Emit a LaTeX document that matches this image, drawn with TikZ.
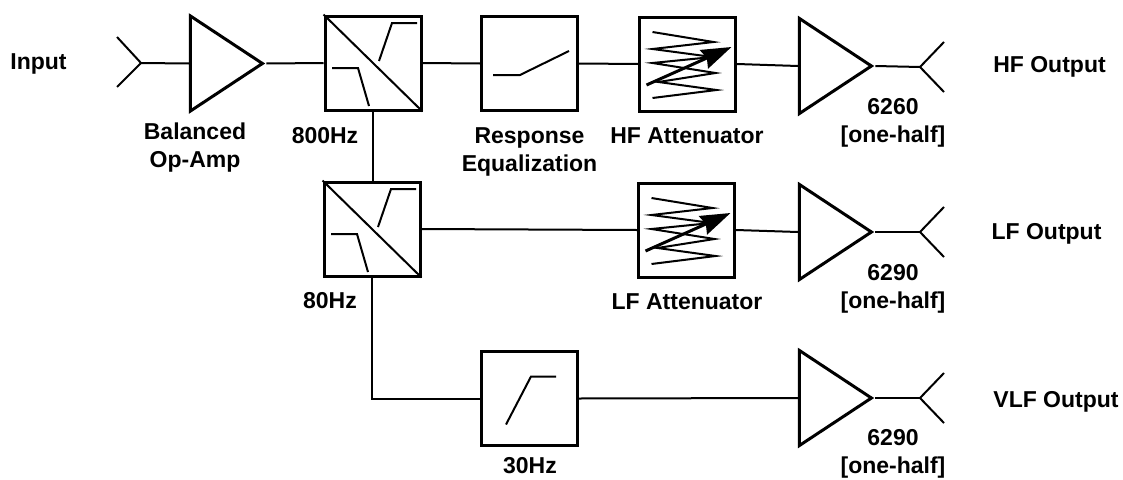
\documentclass[tikz,border=0pt]{standalone}
\usepackage{fontspec}
\setmainfont{Liberation Sans}
\usepackage{tikz}
\usetikzlibrary{positioning, arrows.meta, shapes.geometric}

\begin{document}
\begin{tikzpicture}[
    x=1pt, y=-1pt,
    font=\fontsize{23}{28}\selectfont\bfseries,
    block/.style={rectangle, draw=black, line width=3pt, minimum width=96pt, minimum height=94pt, inner sep=0pt},
    amp/.style={isosceles triangle, isosceles triangle stretches, draw=black, line width=3pt, minimum width=95pt, minimum height=72pt, inner sep=0pt},
    wire/.style={draw=black, line width=2pt},
    curve/.style={draw=black, line width=2pt},
    caption/.style={align=center, inner sep=0pt}
]
\useasboundingbox (0,0) rectangle (1123,479);

% Blocks
\node[amp] (balanced) at (216, 63.5) {};
\node[block] (xoverhi) at (373, 63) {};
\node[block] (equalizer) at (529.5, 63.5) {};
\node[block] (attenhf) at (687.5, 64) {};
\node[amp] (amphf) at (825, 66) {};

\node[block] (xoverlo) at (372, 229) {};
\node[block] (attenlf) at (686.5, 230) {};
\node[amp] (amplf) at (825, 232) {};

\node[block] (highpass) at (529, 398.5) {};
\node[amp] (ampvlf) at (825, 398) {};

% Input and output forks
\coordinate (forkin) at (141, 63);
\coordinate (forkhf) at (920, 67);
\coordinate (forklf) at (920, 232);
\coordinate (forkvlf) at (920, 398);

\draw[wire] (117, 37) -- (forkin) -- (117, 87);
\foreach \fork in {forkhf, forklf, forkvlf} {
    \draw[wire] ([shift={(24,-25)}]\fork) -- (\fork) -- ([shift={(24,25)}]\fork);
}

% Connections
\draw[wire] (forkin) -- (balanced.west);
\draw[wire] (balanced.apex) -- (xoverhi.west);
\draw[wire] (xoverhi.east) -- (equalizer.west);
\draw[wire] (equalizer.east) -- (attenhf.west);
\draw[wire] (attenhf.east) -- (amphf.west);
\draw[wire] (amphf.apex) -- (forkhf);
\draw[wire] (xoverhi.south) -- (xoverhi.south |- xoverlo.north);
\draw[wire] (xoverlo.east) -- (attenlf.west);
\draw[wire] (attenlf.east) -- (amplf.west);
\draw[wire] (amplf.apex) -- (forklf);
\draw[wire] (xoverlo.south) |- (highpass.west);
\draw[wire] (highpass.east) -- (ampvlf.west);
\draw[wire] (ampvlf.apex) -- (forkvlf);

% Crossover symbols
\foreach \xover in {xoverhi, xoverlo} {
    \draw[curve] (\xover.north west) -- (\xover.south east);
    \draw[curve] ([shift={(-41,5)}]\xover.center) -- ++(26,0) -- ++(11,38);
    \draw[curve] ([shift={(6,-2)}]\xover.center) -- ++(13,-38) -- ++(25,0);
}

% Equalizer and high-pass symbols
\draw[curve] ([shift={(-36.5,11.5)}]equalizer.center) -- ++(27,0) -- ++(49,-24);
\draw[curve] ([shift={(-23,26)}]highpass.center) -- ++(25,-48) -- ++(25,0);

% Attenuator symbols
\foreach \atten in {attenhf, attenlf} {
    \draw[curve] ([shift={(-35,-32)}]\atten.center) -- ++(61,10) -- ++(-61,7) -- ++(60,8) -- ++(-60,6) -- ++(63,10) -- ++(-57,9) -- ++(58,8) -- ++(-64,8);
    \draw[draw=black, line width=3pt, -{Stealth[length=30pt, width=20pt, inset=3pt]}] ([shift={(-41,21)}]\atten.center) -- ([shift={(44,-17)}]\atten.center);
}

% Labels
\node[caption] (inputlabel) at (38.5, 64) {Input};
\node[caption] (hflabel) at (1049.5, 67) {HF Output};
\node[caption] (lflabel) at (1046.5, 233.5) {LF Output};
\node[caption] (vlflabel) at (1056, 402) {VLF Output};

\node[caption] (balancedlabel) at (195, 148) {Balanced\\Op-Amp};
\node[caption] (hzhilabel) at (325, 136) {800Hz};
\node[caption] (equalizerlabel) at (529.5, 152) {Response\\Equalization};
\node[caption] (attenhflabel) at (687, 136) {HF Attenuator};
\node[caption] (amphflabel) at (893, 122.5) {6260\\{[}one-half{]}};

\node[caption] (hzlolabel) at (330, 301) {80Hz};
\node[caption] (attenlflabel) at (687, 302) {LF Attenuator};
\node[caption] (amplflabel) at (893, 288.5) {6290\\{[}one-half{]}};

\node[caption] (hzvlflabel) at (530, 466) {30Hz};
\node[caption] (ampvlflabel) at (893, 453.5) {6290\\{[}one-half{]}};

\end{tikzpicture}
\end{document}
